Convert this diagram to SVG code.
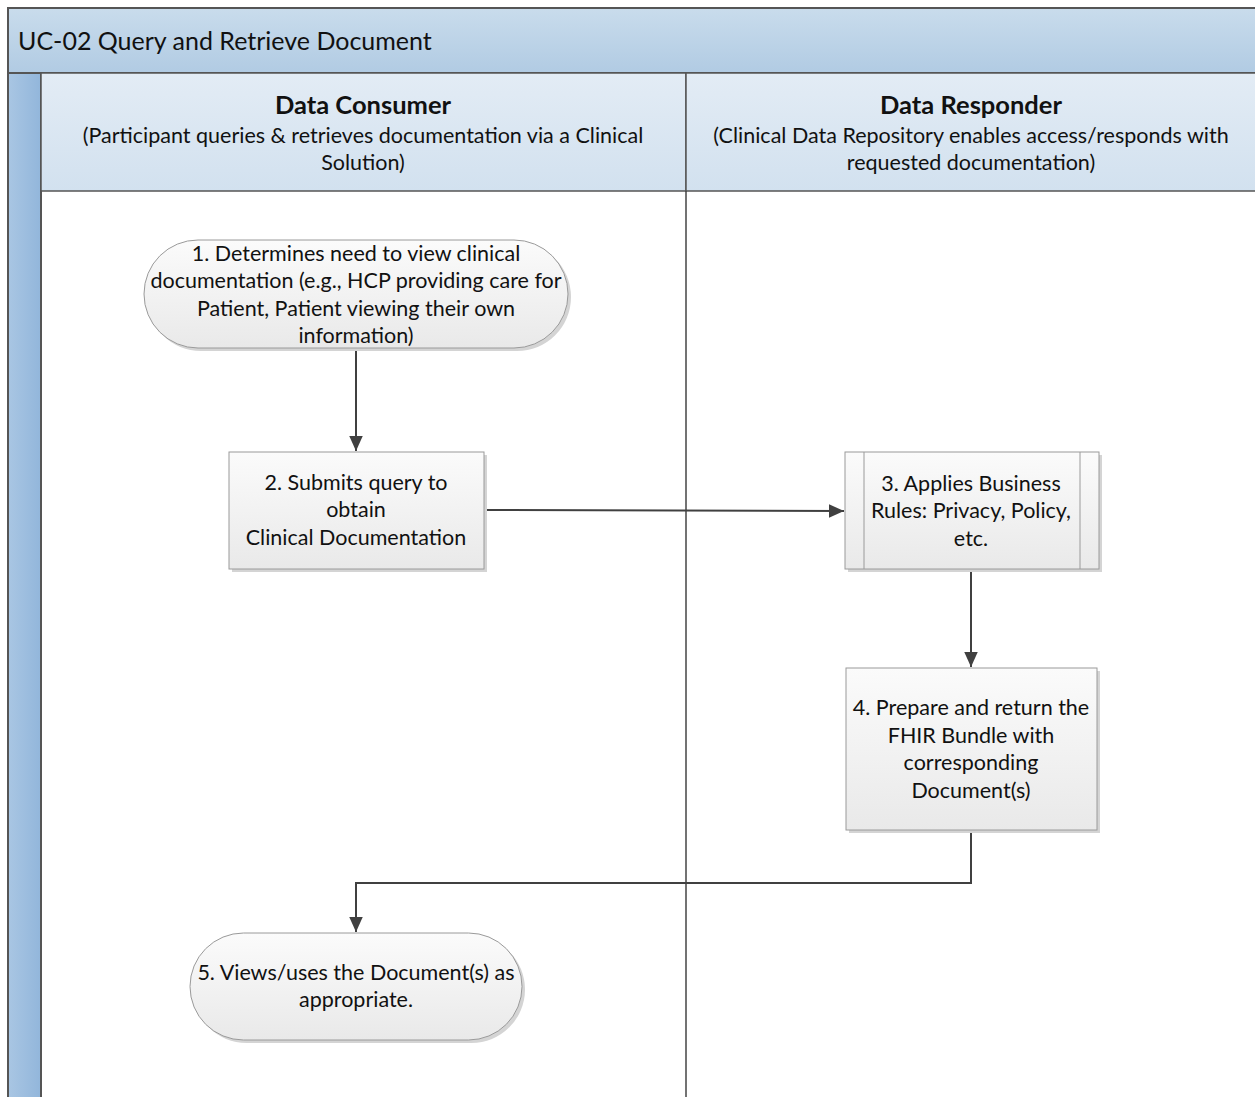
<svg xmlns="http://www.w3.org/2000/svg" width="1255" height="1097" viewBox="0 0 1255 1097">
<defs>
<linearGradient id="title" x1="0" y1="0" x2="0" y2="1"><stop offset="0" stop-color="#c9dcec"/><stop offset="1" stop-color="#b1cbe3"/></linearGradient>
<linearGradient id="hdr" x1="0" y1="0" x2="0" y2="1"><stop offset="0" stop-color="#e3ecf5"/><stop offset="1" stop-color="#d2e1ef"/></linearGradient>
<linearGradient id="bar" x1="0" y1="0" x2="1" y2="0"><stop offset="0" stop-color="#a9c6e3"/><stop offset="1" stop-color="#92b6db"/></linearGradient>
<linearGradient id="node" x1="0" y1="0" x2="0" y2="1"><stop offset="0" stop-color="#fbfbfb"/><stop offset="1" stop-color="#e9e9e9"/></linearGradient>
<marker id="arr" viewBox="0 0 10 10" refX="10" refY="5" markerWidth="15" markerHeight="15" markerUnits="userSpaceOnUse" orient="auto"><path d="M0,0.5 L10,5 L0,9.5 z" fill="#404040"/></marker>
</defs>
<style>
text{font-family:Lato,"Liberation Sans",sans-serif;fill:#111}
.t{font-size:25px}
.h{font-size:25.5px;font-weight:bold;text-anchor:middle}
.s{font-size:21.5px;text-anchor:middle}
.n{font-size:21.5px;text-anchor:middle}
.nd{fill:url(#node);stroke:#9a9a9a;stroke-width:1}
.sh{fill:#d4d4d4}
.c{fill:none;stroke:#404040;stroke-width:2;marker-end:url(#arr)}
</style>
<rect width="1255" height="1097" fill="#fff"/>
<g id="pool">
<rect x="8" y="8" width="1260" height="65" fill="url(#title)" stroke="#555" stroke-width="2"/>
<text class="t" x="18" y="50">UC-02 Query and Retrieve Document</text>
<rect x="8" y="73" width="33" height="1040" fill="url(#bar)" stroke="#555" stroke-width="2"/>
</g>
<g id="lane-consumer">
<rect x="41" y="73" width="645" height="118" fill="url(#hdr)" stroke="#555" stroke-width="1.5"/>
<text class="h" x="363" y="114">Data Consumer</text>
<text class="s" x="363" y="143">(Participant queries &amp; retrieves documentation via a Clinical</text>
<text class="s" x="363" y="170">Solution)</text>
</g>
<g id="lane-responder">
<rect x="686" y="73" width="580" height="118" fill="url(#hdr)" stroke="#555" stroke-width="1.5"/>
<text class="h" x="971" y="114">Data Responder</text>
<text class="s" x="971" y="143">(Clinical Data Repository enables access/responds with</text>
<text class="s" x="971" y="170">requested documentation)</text>
<line x1="686" y1="191" x2="686" y2="1097" stroke="#444" stroke-width="1.5"/>
</g>
<g id="connectors">
<path class="c" d="M356,348 V451"/>
<path class="c" d="M484,510 L844,511"/>
<path class="c" d="M971,569 V667"/>
<path class="c" d="M971,830 V883 H356 V932"/>
</g>
<g id="n1">
<rect class="sh" x="147" y="243" width="424" height="108" rx="54"/>
<rect class="nd" x="144" y="240" width="424" height="108" rx="54"/>
<text class="n" x="356" y="261">1. Determines need to view clinical</text>
<text class="n" x="356" y="288">documentation (e.g., HCP providing care for</text>
<text class="n" x="356" y="316">Patient, Patient viewing their own</text>
<text class="n" x="356" y="343">information)</text>
</g>
<g id="n2">
<rect class="sh" x="232" y="455" width="255" height="117"/>
<rect class="nd" x="229" y="452" width="255" height="117"/>
<text class="n" x="356" y="490">2. Submits query to</text>
<text class="n" x="356" y="517">obtain</text>
<text class="n" x="356" y="545">Clinical Documentation</text>
</g>
<g id="n3">
<rect class="sh" x="848" y="455" width="254" height="117"/>
<rect class="nd" x="845" y="452" width="254" height="117"/>
<line x1="864" y1="452" x2="864" y2="569" stroke="#9a9a9a"/>
<line x1="1080" y1="452" x2="1080" y2="569" stroke="#9a9a9a"/>
<text class="n" x="971" y="491">3. Applies Business</text>
<text class="n" x="971" y="518">Rules: Privacy, Policy,</text>
<text class="n" x="971" y="546">etc.</text>
</g>
<g id="n4">
<rect class="sh" x="849" y="671" width="251" height="162"/>
<rect class="nd" x="846" y="668" width="251" height="162"/>
<text class="n" x="971" y="715">4. Prepare and return the</text>
<text class="n" x="971" y="743">FHIR Bundle with</text>
<text class="n" x="971" y="770">corresponding</text>
<text class="n" x="971" y="798">Document(s)</text>
</g>
<g id="n5">
<rect class="sh" x="193" y="936" width="332" height="107" rx="53.5"/>
<rect class="nd" x="190" y="933" width="332" height="107" rx="53.5"/>
<text class="n" x="356" y="980">5. Views/uses the Document(s) as</text>
<text class="n" x="356" y="1007">appropriate.</text>
</g>
</svg>
